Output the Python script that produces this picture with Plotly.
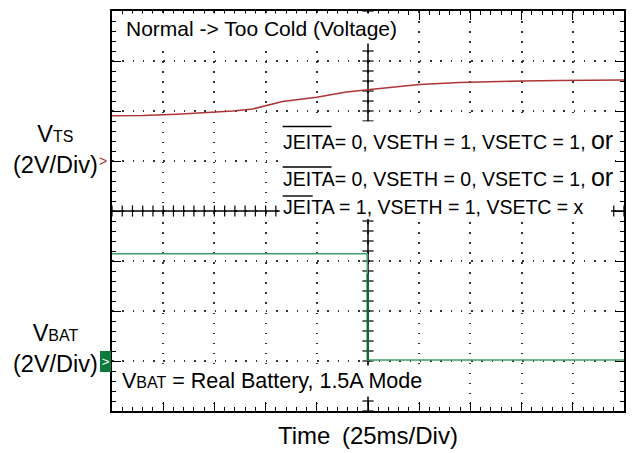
import numpy as np
import plotly.graph_objects as go

# ---------------- data (read from the scope capture) ----------------
# time in ms (25 ms/div, 10 div), voltages in V (2 V/div)
t_vts = [0, 15, 31.7, 45, 59.0, 68.7, 76, 83.3, 99.9, 114.5, 127.2, 138, 150.1, 169.6, 184.2, 200.3, 218.3, 234.4, 250]
v_vts = [1.81, 1.82, 1.87, 1.93, 2.00, 2.08, 2.22, 2.38, 2.55, 2.76, 2.87, 2.97, 3.06, 3.14, 3.18, 3.20, 3.22, 3.24, 3.24]

t_vbat = [0, 124.6, 124.7, 124.9, 250]
v_vbat = [4.29, 4.29, 3.50, 0.04, 0.04]

t_edge = [124.9, 124.9]
v_edge = [3.50, 0.04]

# channel settings
VOLTS_PER_DIV = 2.0
VTS_OFFSET_DIV = 5.0     # ground marker position (divisions from bottom)
VBAT_OFFSET_DIV = 1.0

N_XDIV, N_YDIV = 10, 8
MS_PER_DIV = 25

FONT = "Arial, Liberation Sans, sans-serif"
RED = "#ad3535"
GREEN = "#3f9f6c"
DKGREEN = "#0a6a34"


def to_div(v, off):
    return [off + x / VOLTS_PER_DIV for x in v]


fig = go.Figure()

# centre cross tick marks (graticule)
xmin_ticks = np.arange(0, N_XDIV * MS_PER_DIV + 0.01, MS_PER_DIV / 5)
ymin_ticks = np.arange(0, N_YDIV + 0.001, 0.2)
fig.add_trace(go.Scatter(x=xmin_ticks, y=[N_YDIV / 2] * len(xmin_ticks), mode="markers",
                         marker=dict(symbol="line-ns", size=8, line=dict(width=1.2, color="black")),
                         hoverinfo="skip"))
fig.add_trace(go.Scatter(x=[N_XDIV * MS_PER_DIV / 2] * len(ymin_ticks), y=ymin_ticks, mode="markers",
                         marker=dict(symbol="line-ew", size=8, line=dict(width=1.2, color="black")),
                         hoverinfo="skip"))

# traces
fig.add_trace(go.Scatter(x=t_vts, y=to_div(v_vts, VTS_OFFSET_DIV), mode="lines",
                         line=dict(color=RED, width=1.6), hoverinfo="skip"))
fig.add_trace(go.Scatter(x=t_vbat, y=to_div(v_vbat, VBAT_OFFSET_DIV), mode="lines",
                         line=dict(color=GREEN, width=1.6), hoverinfo="skip"))
fig.add_trace(go.Scatter(x=t_edge, y=to_div(v_edge, VBAT_OFFSET_DIV), mode="lines",
                         line=dict(color=DKGREEN, width=2.4), hoverinfo="skip"))

# scope status markers above graticule
fig.add_trace(go.Scatter(x=[62.4, 124.3, 186.6], y=[8.12, 8.12, 8.12], mode="markers",
                         marker=dict(symbol="square", size=4, color=["#2e7d4f", "#3aa070", "#1f5f3a"]),
                         cliponaxis=False, hoverinfo="skip"))

xrange = [0, N_XDIV * MS_PER_DIV]
yrange = [0, N_YDIV]

fig.update_xaxes(range=xrange, showline=True, linecolor="black", linewidth=2, mirror="ticks",
                 ticks="inside", ticklen=9, tickwidth=1.3, tickcolor="black",
                 tick0=0, dtick=MS_PER_DIV, showticklabels=False, zeroline=False,
                 showgrid=True, gridcolor="#333333", gridwidth=1.5, griddash="1.5px,8.55px",
                 minor=dict(dtick=MS_PER_DIV / 5, ticks="inside", ticklen=4, tickwidth=1.2,
                            tickcolor="black", showgrid=False),
                 fixedrange=True)
fig.update_yaxes(range=yrange, showline=True, linecolor="black", linewidth=2, mirror="ticks",
                 ticks="inside", ticklen=9, tickwidth=1.3, tickcolor="black",
                 tick0=0, dtick=1, showticklabels=False, zeroline=False,
                 showgrid=True, gridcolor="#333333", gridwidth=1.5, griddash="1.5px,8.76px",
                 minor=dict(dtick=0.2, ticks="inside", ticklen=4, tickwidth=1.2,
                            tickcolor="black", showgrid=False),
                 fixedrange=True)

xc = N_XDIV * MS_PER_DIV / 2
yc = N_YDIV / 2
shapes = [
    dict(type="line", xref="x", yref="y", x0=xc, x1=xc, y0=0, y1=N_YDIV,
         line=dict(color="black", width=1.5), layer="between"),
    dict(type="line", xref="x", yref="y", x0=0, x1=N_XDIV * MS_PER_DIV, y0=yc, y1=yc,
         line=dict(color="black", width=1.5), layer="between"),
    # white backing of the condition text block
    dict(type="rect", xref="x", yref="y", x0=81.9, x1=243.7, y0=3.84, y1=5.79,
         fillcolor="white", line=dict(width=0), layer="above"),
    # overlines on JEITA
    dict(type="line", xref="x", yref="y", x0=83.3, x1=107.2, y0=5.69, y1=5.69,
         line=dict(color="black", width=1.4), layer="above"),
    dict(type="line", xref="x", yref="y", x0=83.3, x1=107.2, y0=4.88, y1=4.88,
         line=dict(color="black", width=1.4), layer="above"),
    dict(type="line", xref="x", yref="y", x0=83.3, x1=98.0, y0=4.30, y1=4.30,
         line=dict(color="black", width=1.4), layer="above"),
]

txt = dict(family=FONT, color="black")
annotations = [
    dict(text="Normal -&gt; Too Cold (Voltage)", x=4.9, y=7.66, xref="x", yref="y",
         xanchor="left", yanchor="middle", showarrow=False, bgcolor="white", borderpad=3,
         font=dict(size=21, **txt)),
    dict(text="JEITA= 0, VSETH = 1, VSETC = 1, <span style='font-size:25px'>or</span>",
         x=83.3, y=5.43, xref="x", yref="y", xanchor="left", yanchor="middle", showarrow=False,
         borderpad=0, borderwidth=0, font=dict(size=19.5, **txt)),
    dict(text="JEITA= 0, VSETH = 0, VSETC = 1, <span style='font-size:25px'>or</span>",
         x=83.3, y=4.68, xref="x", yref="y", xanchor="left", yanchor="middle", showarrow=False,
         borderpad=0, borderwidth=0, font=dict(size=19.5, **txt)),
    dict(text="JEITA = 1, VSETH = 1, VSETC = x",
         x=83.3, y=4.09, xref="x", yref="y", xanchor="left", yanchor="middle", showarrow=False,
         borderpad=0, borderwidth=0, font=dict(size=19.5, **txt)),
    dict(text="V<span style='font-size:16px'>BAT</span> = Real Battery, 1.5A Mode",
         x=2.9, y=0.597, xref="x", yref="y", xanchor="left", yanchor="middle", showarrow=False,
         bgcolor="white", borderpad=3, font=dict(size=21.5, **txt)),
    dict(text="V<span style='font-size:16px'>TS</span><br>(2V/Div)", x=-0.111, y=5.23,
         xref="paper", yref="y", xanchor="center", yanchor="middle", align="center",
         showarrow=False, font=dict(size=23.5, **txt)),
    dict(text="V<span style='font-size:16px'>BAT</span><br>(2V/Div)", x=-0.111, y=1.25,
         xref="paper", yref="y", xanchor="center", yanchor="middle", align="center",
         showarrow=False, font=dict(size=23.5, **txt)),
    # channel ground markers
    dict(text="&gt;", x=-0.0176, y=VTS_OFFSET_DIV, xref="paper", yref="y",
         xanchor="center", yanchor="middle", showarrow=False, borderpad=0, borderwidth=0,
         font=dict(size=14, family=FONT, color=RED)),
    dict(text="&gt;", x=-0.0127, y=VBAT_OFFSET_DIV, xref="paper", yref="y",
         xanchor="center", yanchor="middle", showarrow=False, borderpad=0, borderwidth=0,
         width=11, height=21, bgcolor="#0b7a3b", font=dict(size=13, family=FONT, color="white")),
    dict(text="Time &#8201;(25ms/Div)", x=0.5, y=-0.061, xref="paper", yref="paper",
         xanchor="center", yanchor="middle", showarrow=False, font=dict(size=24, **txt)),
]

fig.update_layout(width=637, height=453, margin=dict(l=112, r=13, t=9, b=42),
                  paper_bgcolor="white", plot_bgcolor="white", showlegend=False,
                  shapes=shapes, annotations=annotations, font=dict(family=FONT))

fig.write_html("out.html", config={"displayModeBar": False},
               post_script="document.body.style.margin='0';")
